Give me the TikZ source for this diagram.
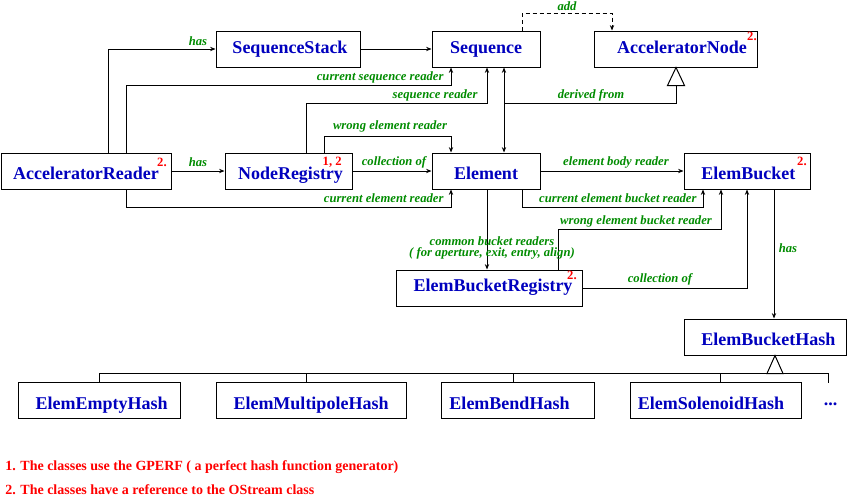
\documentclass[tikz,border=0pt]{standalone}
\usepackage{fontspec}
\setmainfont{Liberation Serif}
\usetikzlibrary{arrows.meta}
\definecolor{clsblue}{RGB}{0,0,190}
\definecolor{lblgreen}{RGB}{0,140,0}
\definecolor{notered}{RGB}{255,0,0}
\begin{document}
\begin{tikzpicture}[x=0.75pt,y=-0.75pt,
  cls/.style={draw,line width=0.75pt,inner sep=0pt,minimum height=27pt,text depth=0pt,text height=8.94pt,text=clsblue,font=\bfseries\fontsize{13.5}{16}\selectfont},
  rowa/.style={text height=7.4pt},
  rowb/.style={text height=12.7pt},
  rowc/.style={text height=14.1pt},
  lbl/.style={text=lblgreen,inner sep=0pt,font=\bfseries\itshape\fontsize{9.5}{10}\selectfont},
  refnote/.style={text=notered,inner sep=0pt,anchor=north east,font=\bfseries\fontsize{9.5}{10}\selectfont},
  conn/.style={line width=0.75pt},
  arr/.style={conn,-{Stealth[length=4pt,width=3.2pt]}},
  darr/.style={conn,{Stealth[length=4pt,width=3.2pt]}-{Stealth[length=4pt,width=3.2pt]}},
  foot/.style={text=notered,inner sep=0pt,anchor=west,font=\bfseries\fontsize{10.5}{12}\selectfont}]

\useasboundingbox (0,0) rectangle (847,500);
\fill[white] (0,0) rectangle (847,500);

% classes
\node[cls,rowa,minimum width=108pt]    (SS)  at (288,49)    {\hspace*{3pt}SequenceStack};
\node[cls,rowa,minimum width=81pt]     (Seq) at (486,49)    {Sequence};
\node[cls,rowa,minimum width=122.25pt] (AN)  at (675.5,49)  {\hspace*{9.75pt}AcceleratorNode};
\node[cls,rowb,minimum width=127.5pt]  (AR)  at (86,171)    {AcceleratorReader};
\node[cls,rowb,minimum width=95.25pt]  (NR)  at (288.5,171) {\hspace*{3pt}NodeRegistry};
\node[cls,rowb,minimum width=81pt]     (El)  at (486,171)   {Element};
\node[cls,rowb,minimum width=94.5pt]   (EB)  at (747,171)   {\hspace*{2pt}ElemBucket};
\node[cls,text height=5.9pt,minimum width=139.5pt]  (EBR) at (489,288)   {\hspace*{6pt}ElemBucketRegistry};
\node[cls,text height=13.4pt,minimum width=121.5pt] (EBH) at (765,337)   {\hspace*{5pt}ElemBucketHash};
\node[cls,rowc,minimum width=121.5pt]  (EEH) at (99,400)    {\hspace*{4pt}ElemEmptyHash};
\node[cls,rowc,minimum width=142.5pt]  (EMH) at (311,400)   {ElemMultipoleHash};
\node[cls,rowc,minimum width=114.75pt] (EBd) at (517.5,400) {ElemBendHash\hspace*{12pt}};
\node[cls,rowc,minimum width=128.25pt] (ESH) at (715.5,400) {ElemSolenoidHash\hspace*{6.75pt}};
\node[text=clsblue,inner sep=0pt,font=\bfseries\fontsize{13.5}{16}\selectfont] (dots) at (830.5,404) {...};

% reference notes
\node[refnote] (nAR)  at (167,158) {2.};
\node[refnote] (nNR)  at (342,157) {1, 2};
\node[refnote] (nAN)  at (757,32)  {2.};
\node[refnote] (nEB)  at (807,157) {2.};
\node[refnote] (nEBR) at (577,271) {2.};

% connectors
\draw[arr] (108,0 |- AR.north) |- (SS.west)
  node[lbl] at (198,41) {has};
\draw[arr] (SS) -- (Seq);
\draw[arr] (126,0 |- AR.north) -- (126,85) -- (451,85) -- (451,0 |- Seq.south)
  node[lbl,anchor=east] at (444,77) {current sequence reader};
\draw[arr] (306,0 |- NR.north) -- (306,103) -- (487,103) -- (487,0 |- Seq.south)
  node[lbl,anchor=east] at (478,95) {sequence reader};
\draw[arr] (324,0 |- NR.north) -- (324,136) -- (451,136) -- (451,0 |- El.north)
  node[lbl] at (390,126) {wrong element reader};
\draw[arr] (AR) -- (NR)
  node[lbl] at (198,162) {has};
\draw[arr] (NR) -- (El)
  node[lbl] at (394,162) {collection of};
\draw[arr] (126,0 |- AR.south) -- (126,207) -- (451,207) -- (451,0 |- El.south)
  node[lbl,anchor=east] at (444,198) {current element reader};
\draw[arr,dash pattern=on 3pt off 2.25pt] (522,0 |- Seq.north) -- (522,13) -- (612,13) -- (612,0 |- AN.north)
  node[lbl] at (567,6) {add};
\draw[darr] (504,0 |- Seq.south) -- (504,0 |- El.north);
\coordinate (dj) at (504,103);
\draw[conn] (dj) -- (676,103) -- (676,85)
  node[lbl] at (591,95) {derived from};
\draw[conn,fill=white] (676,0 |- AN.south) -- ++(-8.5,18) -- ++(17,0) -- cycle;
\draw[arr] (El) -- (EB)
  node[lbl] at (616,162) {element body reader};
\draw[arr] (522,0 |- El.south) -- (522,207) -- (703,207) -- (703,0 |- EB.south)
  node[lbl,anchor=east] at (697,198) {current element bucket reader};
\draw[arr] (558,0 |- EBR.north) -- (558,229) -- (721,229) -- (721,0 |- EB.south)
  node[lbl] at (636,221) {wrong element bucket reader};
\draw[arr] (487,0 |- El.south) -- (487,0 |- EBR.north)
  node[lbl,align=center,font=\bfseries\itshape\fontsize{9.5}{7.6}\selectfont] at (492,248) {common bucket readers\\( for aperture, exit, entry, align)};
\draw[arr] (EBR.east) -- (747,0 |- EBR.east) -- (747,0 |- EB.south)
  node[lbl] at (660,279) {collection of};
\draw[arr] (774,0 |- EB.south) -- (774,0 |- EBH.north)
  node[lbl] at (788,248) {has};

% inheritance tree
\coordinate (tl) at (99,373);
\coordinate (tr) at (828,373);
\coordinate (dtop) at (828,383);
\draw[conn] (99,0 |- EEH.north) -- (tl) -- (tr) -- (dtop);
\draw[conn] (306,373) -- (306,0 |- EMH.north);
\draw[conn] (513,373) -- (513,0 |- EBd.north);
\draw[conn] (720,373) -- (720,0 |- ESH.north);
\draw[conn,fill=white] (775,0 |- EBH.south) -- ++(-8,18) -- ++(16,0) -- cycle;

% footnotes
\node[foot] (f1) at (5,467) {1. The classes use the GPERF ( a perfect hash function generator)};
\node[foot] (f2) at (5,490) {2. The classes have a reference to the OStream class};
\end{tikzpicture}
\end{document}
